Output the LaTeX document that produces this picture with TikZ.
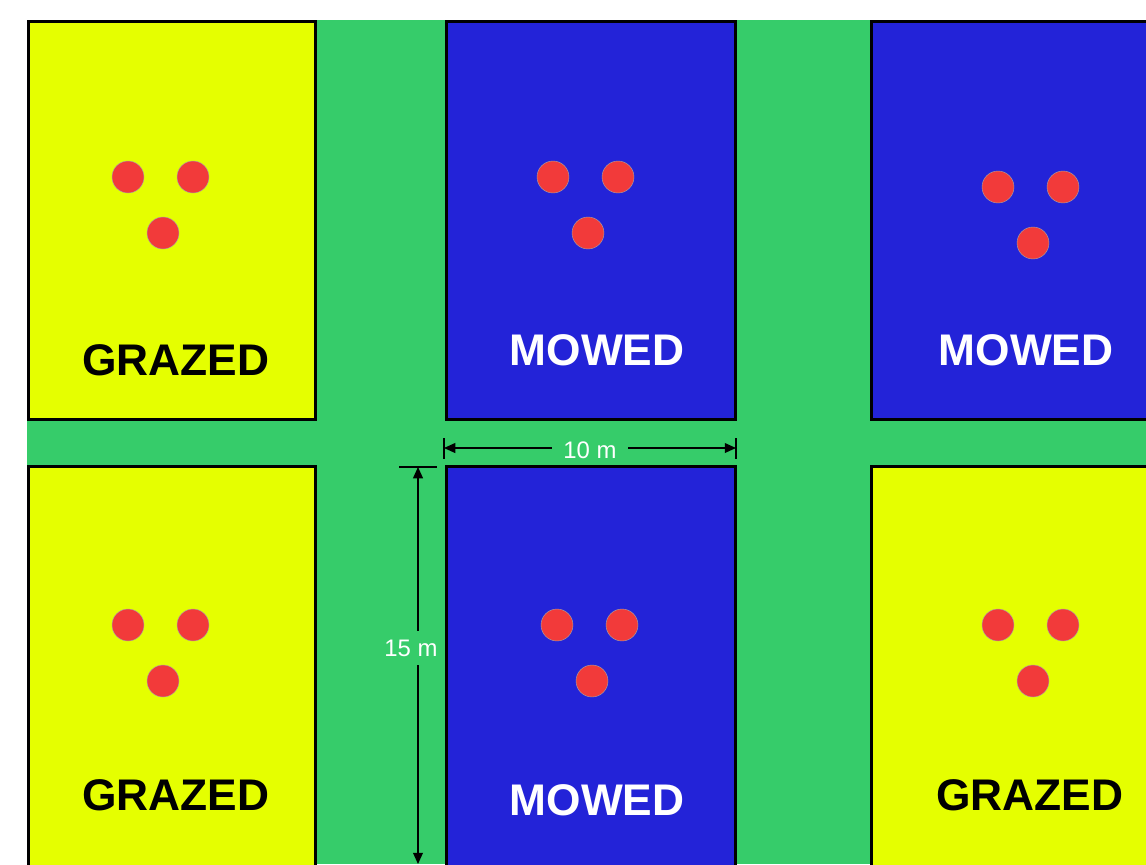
\documentclass[tikz,border=0pt]{standalone}
\usepackage{fontspec}
\setmainfont{Liberation Sans}
\usepackage{xcolor}
\usetikzlibrary{arrows.meta}

\definecolor{grass}{RGB}{54,204,106}
\definecolor{grazed}{RGB}{229,255,0}
\definecolor{mowed}{RGB}{35,35,216}
\definecolor{seed}{RGB}{242,58,58}

\begin{document}
\begin{tikzpicture}[x=0.025cm, y=-0.025cm,
    plot/.style={draw=black, line width=2.3pt},
    seedpt/.style={fill=seed, draw=gray!70, line width=0.3pt},
    treat/.style={inner sep=0pt, font=\fontsize{31.5}{36}\selectfont\bfseries},
    dimline/.style={black, line width=0.9pt},
    dimtip/.style={-{Triangle[length=8pt, width=7pt]}},
    dimlabel/.style={inner xsep=8pt, inner ysep=6pt, white, font=\fontsize{17}{20}\selectfont}]

  \useasboundingbox (0,0) rectangle (1146,864);
  \clip (0,0) rectangle (1146,864);

  % ========== Grass paths between the plots ==========
  \fill[grass] (27,20) rectangle (1146,864);

  % ========== Top row of plots ==========
  \draw[plot, fill=grazed] (28.5,21.5) rectangle (315.5,419.5);
  \draw[plot, fill=mowed] (446.5,21.5) rectangle (735.5,419.5);
  \draw[plot, fill=mowed] (871.5,21.5) rectangle (1160,419.5);

  % ========== Bottom row of plots ==========
  \draw[plot, fill=grazed] (28.5,466.5) rectangle (315.5,880);
  \draw[plot, fill=mowed] (446.5,466.5) rectangle (735.5,880);
  \draw[plot, fill=grazed] (871.5,466.5) rectangle (1160,880);

  % --- Three sample points in every plot ---
  \foreach \x/\y in {128/177, 553/177, 998/187, 128/625, 557/625, 998/625} {
    \draw[seedpt] (\x,\y) circle (16);
    \draw[seedpt] (\x+65,\y) circle (16);
    \draw[seedpt] (\x+35,\y+56) circle (16);
  }

  % --- Treatment names ---
  \node[treat, black] (gTL) at (176,360) {GRAZED};
  \node[treat, white] (mTM) at (597,350) {MOWED};
  \node[treat, white] (mTR) at (1026,350) {MOWED};
  \node[treat, black] (gBL) at (176,795) {GRAZED};
  \node[treat, white] (mBM) at (597,800) {MOWED};
  \node[treat, black] (gBR) at (1030,795) {GRAZED};

  % ========== Plot width ==========
  \coordinate (wl) at (444,448);
  \coordinate (wr) at (736,448);
  \draw[dimline] (444,438) -- (444,459);
  \draw[dimline] (736,438) -- (736,459);
  \node[dimlabel] (wlab) at (590,450) {10 m};
  \draw[dimline, dimtip] (wlab.west |- wl) -- (wl);
  \draw[dimline, dimtip] (wlab.east |- wr) -- (wr);

  % ========== Plot length ==========
  \coordinate (ht) at (418,467);
  \coordinate (hb) at (418,864);
  \draw[dimline] (399,467) -- (437,467);
  \node[dimlabel] (hlab) at (411,648) {15 m};
  \draw[dimline, dimtip] (hlab.north -| ht) -- (ht);
  \draw[dimline, dimtip] (hlab.south -| hb) -- (hb);

\end{tikzpicture}
\end{document}
